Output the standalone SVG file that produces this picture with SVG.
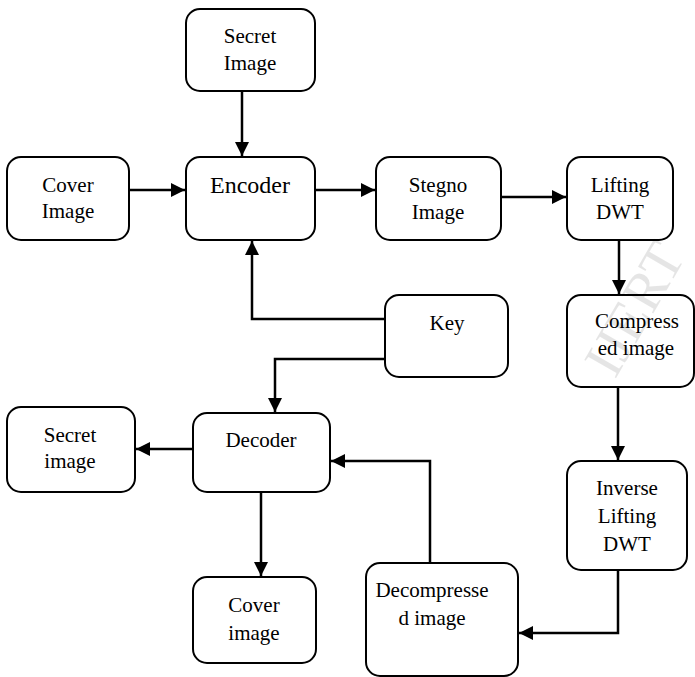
<svg xmlns="http://www.w3.org/2000/svg" width="695" height="677" viewBox="0 0 695 677">
  <style>
    .box { fill: #ffffff; stroke: #000000; stroke-width: 2; }
    .lbl { font-family: "Liberation Serif", "Times New Roman", serif; font-size: 21px; fill: #000000; text-anchor: middle; }
    .big { font-size: 24px; }
    .wire { fill: none; stroke: #000000; stroke-width: 2.5; }
    .mark { font-family: "Liberation Serif", "Times New Roman", serif; font-size: 56px; fill: #000000; fill-opacity: 0.1; }
  </style>
  <defs>
    <marker id="head" viewBox="0 0 12 12" refX="12" refY="6" markerWidth="14" markerHeight="14" markerUnits="userSpaceOnUse" orient="auto">
      <path d="M0,0 L12,6 L0,12 Z" fill="#000000"/>
    </marker>
  </defs>

  <!-- encoding side -->
  <g id="secret-image-in">
    <rect class="box" x="186" y="9" width="129" height="82" rx="14"/>
    <text class="lbl" x="250" y="43">Secret</text>
    <text class="lbl" x="250" y="70">Image</text>
  </g>
  <g id="cover-image-in">
    <rect class="box" x="7" y="157" width="122" height="83" rx="14"/>
    <text class="lbl" x="68" y="192">Cover</text>
    <text class="lbl" x="68" y="218">Image</text>
  </g>
  <g id="encoder">
    <rect class="box" x="186" y="157" width="129" height="83" rx="14"/>
    <text class="lbl big" x="250" y="193">Encoder</text>
  </g>
  <g id="stegno-image">
    <rect class="box" x="376" y="157" width="125" height="83" rx="14"/>
    <text class="lbl" x="438" y="192">Stegno</text>
    <text class="lbl" x="438" y="219">Image</text>
  </g>
  <g id="lifting-dwt">
    <rect class="box" x="567" y="157" width="106" height="83" rx="14"/>
    <text class="lbl" x="620" y="192">Lifting</text>
    <text class="lbl" x="620" y="219">DWT</text>
  </g>
  <g id="key">
    <rect class="box" x="385" y="295" width="123" height="82" rx="14"/>
    <text class="lbl" x="447" y="330">Key</text>
  </g>
  <g id="compressed-image">
    <rect class="box" x="567" y="295" width="127" height="92" rx="14"/>
    <text class="lbl" x="637" y="328">Compress</text>
    <text class="lbl" x="636" y="355">ed image</text>
  </g>

  <!-- decoding side -->
  <g id="secret-image-out">
    <rect class="box" x="7" y="407" width="128" height="85" rx="14"/>
    <text class="lbl" x="70" y="442">Secret</text>
    <text class="lbl" x="70" y="468">image</text>
  </g>
  <g id="decoder">
    <rect class="box" x="193" y="413" width="137" height="79" rx="14"/>
    <text class="lbl" x="261" y="447">Decoder</text>
  </g>
  <g id="inverse-lifting-dwt">
    <rect class="box" x="567" y="461" width="120" height="109" rx="14"/>
    <text class="lbl" x="627" y="495">Inverse</text>
    <text class="lbl" x="627" y="523">Lifting</text>
    <text class="lbl" x="627" y="551">DWT</text>
  </g>
  <g id="cover-image-out">
    <rect class="box" x="193" y="577" width="123" height="86" rx="14"/>
    <text class="lbl" x="254" y="612">Cover</text>
    <text class="lbl" x="254" y="640">image</text>
  </g>
  <g id="decompressed-image">
    <rect class="box" x="366" y="563" width="152" height="113" rx="14"/>
    <text class="lbl" x="432" y="597">Decompresse</text>
    <text class="lbl" x="432" y="625">d image</text>
  </g>

  <g id="connectors">
    <path class="wire" d="M242,91 V156" marker-end="url(#head)"/>
    <path class="wire" d="M129,190 H185" marker-end="url(#head)"/>
    <path class="wire" d="M315,190 H375" marker-end="url(#head)"/>
    <path class="wire" d="M501,197 H566" marker-end="url(#head)"/>
    <path class="wire" d="M619,240 V294" marker-end="url(#head)"/>
    <path class="wire" d="M385,319 H252 V241" marker-end="url(#head)"/>
    <path class="wire" d="M385,359 H275 V412" marker-end="url(#head)"/>
    <path class="wire" d="M193,449 H136" marker-end="url(#head)"/>
    <path class="wire" d="M618,387 V460" marker-end="url(#head)"/>
    <path class="wire" d="M618,570 V633 H519" marker-end="url(#head)"/>
    <path class="wire" d="M430,563 V461 H331" marker-end="url(#head)"/>
    <path class="wire" d="M261,492 V576" marker-end="url(#head)"/>
  </g>

  <!-- faint publisher mark -->
  <text class="mark" transform="translate(615,380) rotate(-60)">IJERT</text>
</svg>
